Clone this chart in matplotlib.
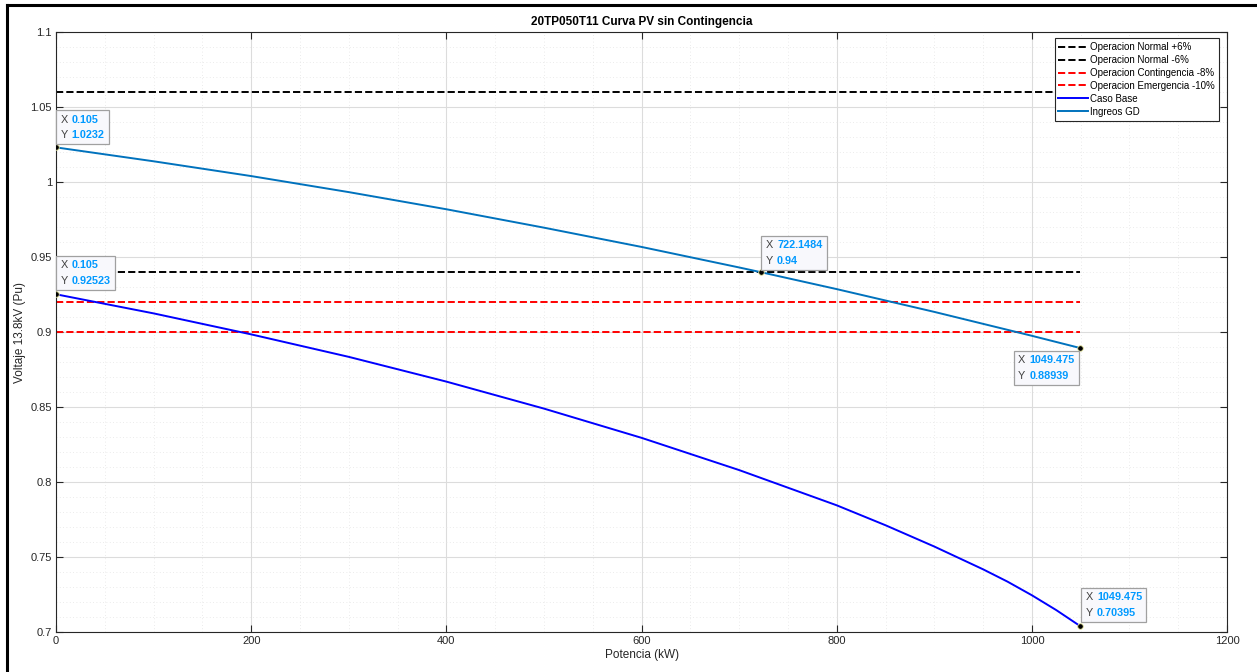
import matplotlib.pyplot as plt
from matplotlib.lines import Line2D
from matplotlib.offsetbox import TextArea, HPacker, VPacker, AnnotationBbox

plt.rcParams['font.family'] = ['Liberation Sans', 'DejaVu Sans']

# Data
x_base = [0.105, 100, 200, 300, 400, 500, 600, 700, 800, 850, 900, 950, 975, 1000,
          1025, 1049.475]
y_base = [0.92523, 0.9125, 0.8985, 0.8835, 0.8670, 0.8490, 0.8295, 0.8080, 0.7845,
          0.7712, 0.7570, 0.7418, 0.7336, 0.7245, 0.7146, 0.70395]

x_gd = [0.105, 100, 200, 300, 400, 500, 600, 700, 722.1484, 800, 900, 1000, 1049.475]
y_gd = [1.0232, 1.01394, 1.00408, 0.99338, 0.98195, 0.96967, 0.95682, 0.94313, 0.94,
        0.92869, 0.91350, 0.89755, 0.88939]

limit_x = [0, 1049.475]
limits = [("Operacion Normal +6%", 1.06, "black"),
          ("Operacion Normal -6%", 0.94, "black"),
          ("Operacion Contingencia -8%", 0.92, "red"),
          ("Operacion Emergencia -10%", 0.90, "red")]

# Datatips: (x, y, offset, alignment, x text, y text)
tips = [(0.105, 1.0232, (3.0, 5.2), (0, 0), "0.105", "1.0232"),
        (0.105, 0.92523, (3.0, 6.0), (0, 0), "0.105", "0.92523"),
        (722.1484, 0.94, (3.5, 4.5), (0, 0), "722.1484", "0.94"),
        (1049.475, 0.88939, (-3.8, -5.2), (1, 1), "1049.475", "0.88939"),
        (1049.475, 0.70395, (3.8, 5.9), (0, 0), "1049.475", "0.70395")]

fig = plt.figure(figsize=(12.57, 6.72), dpi=100)
ax = fig.add_axes([0.0446, 0.0595, 0.9316, 0.8925])

for label, val, col in limits:
    ax.plot(limit_x, [val, val], linestyle="--", color=col, lw=1.4, label=label)

ax.plot(x_base, y_base, color="#0000ff", lw=1.4, label="Caso Base")
ax.plot(x_gd, y_gd, color="#0072BD", lw=1.4, label="Ingreos GD")

ax.set_xlim(0, 1200)
ax.set_ylim(0.7, 1.1)
ax.set_xticks(range(0, 1201, 200))
ax.set_yticks([0.7, 0.75, 0.8, 0.85, 0.9, 0.95, 1.0, 1.05, 1.1])
ax.set_yticklabels(["0.7", "0.75", "0.8", "0.85", "0.9", "0.95", "1", "1.05", "1.1"])
ax.set_xticks(range(0, 1201, 50), minor=True)
ax.set_yticks([0.7 + 0.01 * i for i in range(41)], minor=True)
ax.grid(which="major", color="#dcdcdc", lw=0.8)
ax.grid(which="minor", color="#e4e4e4", lw=0.6, linestyle=(0, (1, 3)))
ax.set_axisbelow(True)
ax.tick_params(which="both", direction="in", top=True, right=True, labelsize=8,
               colors="#262626", length=5, pad=3)
ax.tick_params(which="minor", length=0)
for s in ax.spines.values():
    s.set_color("#262626")
    s.set_linewidth(0.8)

ax.set_title("20TP050T11 Curva PV sin Contingencia", fontsize=8.5, fontweight="bold",
             pad=5)
ax.set_xlabel("Potencia (kW)", fontsize=8.5, color="#262626", labelpad=2)
ax.set_ylabel("Voltaje 13.8kV (Pu)", fontsize=8.5, color="#262626")
ax.yaxis.set_label_coords(-0.026, 0.5)

leg = ax.legend(loc="upper right", bbox_to_anchor=(0.9932, 0.99), borderaxespad=0,
                fontsize=7, fancybox=False, edgecolor="#262626", framealpha=1,
                handlelength=3.0, handletextpad=0.3, borderpad=0.4,
                labelspacing=0.3)
leg.get_frame().set_linewidth(0.8)

for tx, ty, off, align, xs, ys in tips:
    ax.plot(tx, ty, "o", ms=4, color="black", mec="#e8e8a0", mew=0.6, zorder=6)
    row1 = HPacker(children=[TextArea("X", textprops=dict(color="#404040", size=7.8)),
                             TextArea(xs, textprops=dict(color="#0099ff", size=7.8,
                                                         weight="bold"))],
                   pad=0, sep=3)
    row2 = HPacker(children=[TextArea("Y", textprops=dict(color="#404040", size=7.8)),
                             TextArea(ys, textprops=dict(color="#0099ff", size=7.8,
                                                         weight="bold"))],
                   pad=0, sep=3)
    box = VPacker(children=[row1, row2], pad=0, sep=4)
    ab = AnnotationBbox(box, (tx, ty), xybox=off, xycoords="data",
                        boxcoords="offset points", box_alignment=align, pad=0.45,
                        frameon=True, annotation_clip=False, zorder=7,
                        bboxprops=dict(boxstyle="square", fc="#f8f8fc", ec="#a0a0a0",
                                       lw=0.9))
    ax.add_artist(ab)

# outer frame
fig.add_artist(Line2D([0.0056, 0.0056], [0, 0.9926], color="black", lw=2.2))
fig.add_artist(Line2D([0.0056, 1.0], [0.9926, 0.9926], color="black", lw=2.2))

fig.savefig("out.png", dpi=100)
